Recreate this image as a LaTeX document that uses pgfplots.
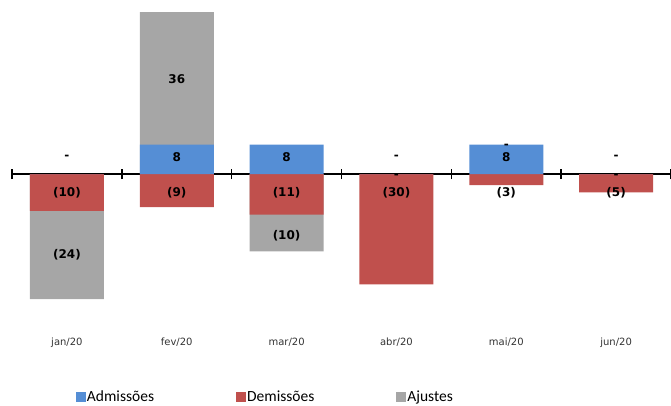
\documentclass[border=0pt]{standalone}
\usepackage{pgfplots}
\pgfplotsset{compat=1.18}
\usepackage{fontspec}
\setmainfont{DejaVu Sans}
\newfontfamily\legfont{Carlito}
\definecolor{cAdm}{RGB}{85,142,213}
\definecolor{cDem}{RGB}{192,80,77}
\definecolor{cAju}{RGB}{166,166,166}
\begin{document}
\begin{tikzpicture}
\useasboundingbox (0,0) rectangle (671pt,406pt);
\begin{axis}[
  at={(12pt,63pt)}, anchor=south west,
  scale only axis, width=659pt, height=343pt,
  xmin=-0.5, xmax=5.5, ymin=-45.9, ymax=47.3,
  axis x line=middle, axis y line=none,
  x axis line style={-, line width=1.5pt, black},
  xtick={0,...,5}, xticklabels={jan/20,fev/20,mar/20,abr/20,mai/20,jun/20},
  major tick length=0pt,
  minor xtick={-0.5,0.5,...,5.5},
  minor tick length=10pt,
  tick align=center,
  minor tick style={line width=1.5pt, black},
  major tick style={draw=none},
  xticklabel style={font=\fontsize{10}{12}\selectfont, text=black!80, yshift=-160pt},
  clip=false,
  legend columns=3,
  reverse legend,
  legend image code/.code={\fill[#1] (0pt,-5pt) rectangle (10pt,5pt);},
  legend style={draw=none, fill=none, inner sep=0pt, outer sep=0pt,
    at={(0.0971,-0.158)}, anchor=west,
    font=\legfont\fontsize{15.5}{16}\selectfont,
    nodes={inner sep=1pt},
    /tikz/every even column/.append style={column sep=81pt}},
  legend cell align=left,
]
\addplot[ybar, bar width=74pt, bar shift=0pt, fill=cAju, draw=none]
  coordinates {(0,-34) (1,44) (2,-21) (3,0) (4,0) (5,0)};
\addlegendentry{Ajustes}
\addplot[ybar, bar width=74pt, bar shift=0pt, fill=cDem, draw=none]
  coordinates {(0,-10) (1,-9) (2,-11) (3,-30) (4,-3) (5,-5)};
\addlegendentry{Demissões}
\addplot[ybar, bar width=74pt, bar shift=0pt, fill=cAdm, draw=none]
  coordinates {(0,0) (1,8) (2,8) (3,0) (4,8) (5,0)};
\addlegendentry{Admissões}
\addplot[forget plot, only marks, mark=*, mark size=0pt, mark options={draw=none, fill=none},
  nodes near coords, point meta=explicit symbolic,
  every node near coord/.style={font=\fontsize{12}{14}\selectfont\bfseries, text=black, anchor=center, inner sep=0pt}]
  table[x=x, y=y, meta=label] {
x y label
0 4.6 -
0 -5.2 (10)
0 -22 (24)
1 4.6 8
1 -5.2 (9)
1 25.8 36
2 4.6 8
2 -5.2 (11)
2 -16.8 (10)
3 4.6 -
3 -5.2 (30)
3 -0.5 -
4 7.6 -
4 4.6 8
4 -5.2 (3)
5 4.6 -
5 -5.2 (5)
5 -0.5 -
};
\end{axis}
\end{tikzpicture}
\end{document}
